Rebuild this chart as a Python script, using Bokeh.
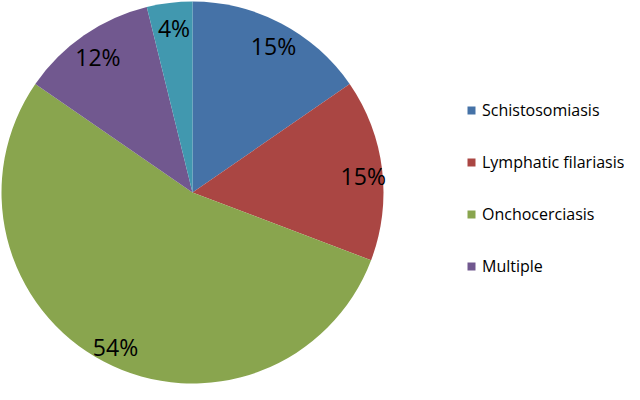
import math
from bokeh.plotting import figure
from bokeh.models import ColumnDataSource, Range1d, Legend, LegendItem
from bokeh.core.properties import value
from bokeh.embed import file_html
from bokeh.resources import INLINE

# data
categories = ["Schistosomiasis", "Lymphatic filariasis", "Onchocerciasis", "Multiple", "Other"]
counts = [4, 4, 14, 3, 1]
colors = ["#4572A7", "#AA4643", "#89A54E", "#71588F", "#4198AF"]
legend_count = 4

W, H = 624, 384
cx, cy, R = 192, 192, 191

total = sum(counts)
starts, ends, mids, labels = [], [], [], []
acc = 0.0
for c in counts:
    a0 = math.pi / 2 - 2 * math.pi * acc / total
    acc += c
    a1 = math.pi / 2 - 2 * math.pi * acc / total
    starts.append(a0)
    ends.append(a1)
    mids.append((a0 + a1) / 2)
    labels.append(f"{round(100 * c / total)}%")

p = figure(width=W, height=H, output_backend="svg", toolbar_location=None,
           x_range=Range1d(0, W), y_range=Range1d(0, H), min_border=0)
p.axis.visible = False
p.grid.visible = False
p.outline_line_color = None
p.background_fill_color = "white"
p.border_fill_color = "white"

src = ColumnDataSource(dict(cat=categories, start=starts, end=ends, color=colors))
wr = p.wedge(x=cx, y=cy, radius=R, start_angle="start", end_angle="end",
             direction="clock", fill_color="color", line_color=None, source=src)

lsrc = ColumnDataSource(dict(
    x=[cx + 0.89 * R * math.cos(m) for m in mids],
    y=[cy + 0.89 * R * math.sin(m) for m in mids],
    t=labels))
p.text(x="x", y="y", text="t", source=lsrc, text_align="center", text_baseline="middle",
       y_offset=4, x_offset=2,
       text_font=value("Open Sans"), text_font_size="23px", text_color="black")

items = [LegendItem(label=categories[i], renderers=[wr], index=i) for i in range(legend_count)]

legend = Legend(items=items, location=(466, 107), padding=0, margin=0, spacing=30,
                glyph_width=10, glyph_height=10, label_standoff=6,
                label_text_font="Open Sans", label_text_font_size="16px",
                label_text_color="black", label_height=20,
                border_line_color=None, background_fill_alpha=0)
p.add_layout(legend)

open("out.html", "w").write(file_html(p, INLINE))
